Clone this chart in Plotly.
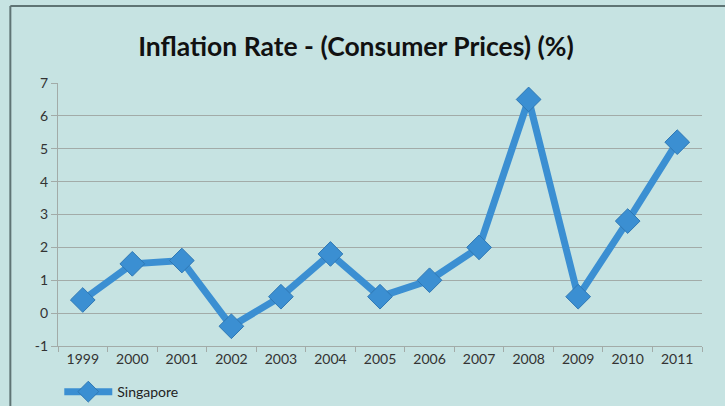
import plotly.graph_objects as go

years = ["1999", "2000", "2001", "2002", "2003", "2004", "2005", "2006", "2007", "2008", "2009", "2010", "2011"]
singapore = [0.4, 1.5, 1.6, -0.4, 0.5, 1.8, 0.5, 1.0, 2.0, 6.5, 0.5, 2.8, 5.2]
y_ticks = [-1, 0, 1, 2, 3, 4, 5, 6, 7]
y_tick_labels = ["-1", "0", "1", "2", "3", "4", "5", "6", "7"]

bg = "#c6e3e2"
blue = "#3b8fd2"
grid = "#a2aba8"

fig = go.Figure()
fig.add_trace(go.Scatter(
    x=years, y=singapore, name="Singapore", mode="lines+markers",
    line=dict(color=blue, width=7),
    marker=dict(symbol="diamond", size=19, color=blue, line=dict(color="#2f78b4", width=1)),
))

fig.update_layout(
    width=725, height=406,
    paper_bgcolor=bg, plot_bgcolor=bg,
    margin=dict(l=58, r=23, t=83, b=60, autoexpand=False),
    title=dict(text="<b>Inflation Rate - (Consumer Prices) (%)</b>", x=0.491, xanchor="center",
               y=0.885, yanchor="middle",
               font=dict(family="Lato", size=26.5, color="#111111")),
    font=dict(family="Lato", size=14, color="#333333"),
    showlegend=True,
    legend=dict(orientation="h", x=0.002, xanchor="left", y=-0.175, yanchor="middle",
                itemwidth=48,
                bgcolor="rgba(0,0,0,0)", font=dict(size=14, color="#222222")),
    xaxis=dict(type="category", showgrid=False, showline=True, linecolor=grid, linewidth=1,
               ticks="outside", tickson="boundaries", ticklen=5, tickcolor=grid,
               tickfont=dict(size=14, color="#333333"), range=[-0.5, 12.5]),
    yaxis=dict(range=[-1, 7], tickvals=y_ticks, ticktext=y_tick_labels, showgrid=True,
               gridcolor=grid, gridwidth=1.2,
               showline=True, linecolor=grid, linewidth=1, ticks="outside", ticklen=6,
               tickcolor=grid, zeroline=False, tickfont=dict(size=14, color="#333333")),
    shapes=[
        dict(type="line", xref="paper", yref="paper", x0=-0.074, x1=1.2, y0=1.293, y1=1.293,
             line=dict(color="#5f7474", width=2)),
        dict(type="line", xref="paper", yref="paper", x0=-0.074, x1=-0.074, y0=1.293, y1=-0.3,
             line=dict(color="#5f7474", width=2)),
    ],
)

fig.write_html(
    "out.html",
    config={"displayModeBar": False},
    post_script="document.body.style.margin='0';document.body.style.overflow='hidden';"
                "document.documentElement.style.background='" + bg + "';",
)
